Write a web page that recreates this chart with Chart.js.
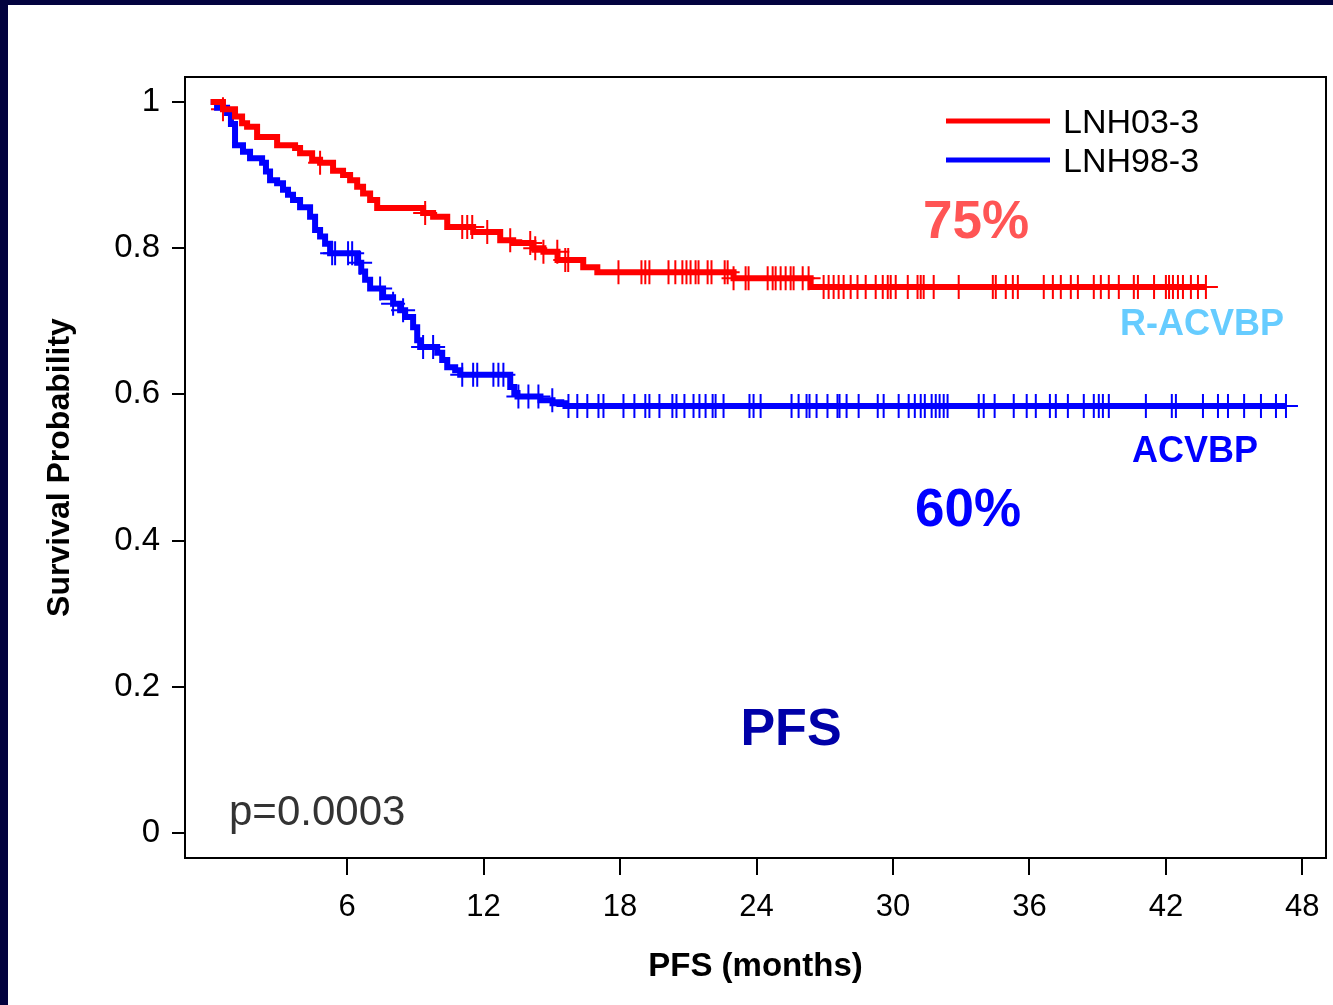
<!DOCTYPE html>
<html>
<head>
<meta charset="utf-8">
<title>PFS</title>
<script src="https://cdn.jsdelivr.net/npm/chart.js@4.4.1/dist/chart.umd.min.js"></script>
<style>
  html, body { margin: 0; padding: 0; width: 1333px; height: 1005px; overflow: hidden; background: #03033f; }
  #wrap { position: absolute; left: 8px; top: 5px; width: 1332px; height: 1000px; background: #fff; }
</style>
</head>
<body>
<div id="wrap"><canvas id="km" width="1332" height="1000"></canvas></div>
<script>
// Kaplan-Meier steps (months, survival)
const redTimes = [0, 0.54, 1.07, 1.38, 1.6, 2.04, 2.92, 3.71, 3.93, 4.46, 4.81, 5.38, 5.82, 6.13, 6.44, 6.7, 7.01, 7.32, 9.34, 9.78, 10.4, 11.54, 12.73, 13.3, 14.19, 14.63, 15.25, 16.38, 17.0, 22.99, 26.38];
const redSurv  = [1, 0.99, 0.98, 0.971, 0.966, 0.952, 0.941, 0.937, 0.93, 0.921, 0.917, 0.906, 0.9, 0.893, 0.884, 0.875, 0.866, 0.855, 0.848, 0.843, 0.829, 0.822, 0.811, 0.807, 0.8, 0.795, 0.784, 0.774, 0.767, 0.759, 0.747];
const redEnd = 43.76;
const redCensor = [0.54, 4.81, 9.43, 11.06, 11.28, 11.5, 12.16, 13.17, 14.05, 14.27, 14.63, 15.24, 15.59, 15.72, 17.93, 18.94, 19.11, 19.29, 20.13, 20.43, 20.74, 20.92, 21.1, 21.32, 21.45, 21.85, 22.02, 22.6, 22.73, 22.99, 23.52, 23.65, 24.49, 24.71, 24.84, 25.06, 25.28, 25.5, 25.63, 26.03, 26.29, 26.95, 27.17, 27.39, 27.61, 27.83, 28.14, 28.44, 28.8, 29.24, 29.55, 29.77, 29.9, 30.12, 30.65, 31.08, 31.22, 31.35, 31.79, 32.89, 34.39, 34.52, 34.96, 35.27, 35.49, 36.63, 37.03, 37.38, 37.82, 38.13, 38.83, 39.14, 39.49, 39.93, 40.59, 40.77, 41.48, 42.0, 42.14, 42.31, 42.53, 42.75, 43.1, 43.41, 43.76];

const blueTimes = [0, 0.28, 0.72, 0.89, 1.07, 1.42, 1.73, 2.26, 2.43, 2.61, 2.92, 3.18, 3.4, 3.62, 3.93, 4.37, 4.59, 4.81, 5.03, 5.25, 6.44, 6.62, 6.79, 7.01, 7.58, 8.02, 8.33, 8.55, 8.9, 9.08, 9.21, 9.96, 10.18, 10.4, 10.75, 10.97, 13.17, 13.35, 13.49, 14.5, 15.03, 15.6];
const blueSurv  = [1, 0.992, 0.985, 0.97, 0.941, 0.932, 0.923, 0.917, 0.905, 0.893, 0.889, 0.88, 0.873, 0.866, 0.856, 0.843, 0.825, 0.816, 0.806, 0.793, 0.78, 0.768, 0.757, 0.745, 0.733, 0.724, 0.715, 0.706, 0.692, 0.674, 0.665, 0.657, 0.647, 0.637, 0.633, 0.627, 0.61, 0.602, 0.597, 0.592, 0.588, 0.584];
const blueEnd = 47.28;
const blueCensor = [5.34, 5.47, 6.04, 6.22, 6.57, 7.45, 8.02, 8.46, 9.34, 9.78, 11.06, 11.54, 11.72, 12.43, 12.65, 12.87, 13.53, 13.97, 14.41, 15.02, 15.73, 16.12, 16.56, 17.05, 17.27, 18.15, 18.63, 19.11, 19.29, 19.73, 20.3, 20.48, 20.83, 21.23, 21.49, 21.76, 22.07, 22.2, 22.55, 23.69, 23.87, 24.18, 25.54, 25.85, 26.2, 26.33, 26.64, 27.12, 27.56, 27.65, 27.96, 28.49, 29.33, 29.59, 30.25, 30.69, 30.96, 31.22, 31.4, 31.7, 31.88, 32.05, 32.23, 32.4, 33.77, 33.99, 34.47, 35.31, 35.88, 36.28, 36.9, 37.16, 37.69, 38.39, 38.83, 39.05, 39.23, 39.49, 41.12, 42.26, 42.44, 43.63, 44.29, 44.73, 45.44, 46.18, 46.84, 47.28];

const xTicks = [6, 12, 18, 24, 30, 36, 42, 48];
const yTicks = [0, 0.2, 0.4, 0.6, 0.8, 1];

const RED = '#ff0000';
const BLUE = '#0000ff';
const FONT = '"Liberation Sans", Arial, sans-serif';

function stepPoints(times, surv, end) {
  const pts = times.map((t, i) => ({ x: t, y: surv[i] }));
  pts.push({ x: end, y: surv[surv.length - 1] });
  return pts;
}

function survAt(times, surv, t) {
  let s = surv[0];
  for (let i = 0; i < times.length; i++) if (times[i] <= t) s = surv[i];
  return s;
}

function censorPoints(cens, times, surv) {
  return cens.map(t => ({ x: t, y: survAt(times, surv, t) }));
}

// frame + in-plot labels and legend
const decor = {
  id: 'decor',
  afterDraw(chart) {
    const { ctx, chartArea: a } = chart;
    ctx.save();
    ctx.strokeStyle = '#000';
    ctx.lineWidth = 2;
    ctx.strokeRect(a.left, a.top, a.right - a.left, a.bottom - a.top);

    // legend
    ctx.lineWidth = 5;
    [[RED, 116, 'LNH03-3'], [BLUE, 155, 'LNH98-3']].forEach(([c, y, txt]) => {
      ctx.strokeStyle = c;
      ctx.beginPath(); ctx.moveTo(938, y); ctx.lineTo(1042, y); ctx.stroke();
      ctx.fillStyle = '#000';
      ctx.font = `34px ${FONT}`;
      ctx.textAlign = 'left';
      ctx.textBaseline = 'alphabetic';
      ctx.fillText(txt, 1055, y + 12);
    });

    const label = (txt, x, y, size, color, bold, align) => {
      ctx.font = `${bold ? 'bold ' : ''}${size}px ${FONT}`;
      ctx.fillStyle = color;
      ctx.textAlign = align || 'center';
      ctx.textBaseline = 'alphabetic';
      ctx.fillText(txt, x, y + size * 0.358);
    };
    label('75%', 968, 214, 53, '#ff5555', true);
    label('R-ACVBP', 1194, 317, 36, '#66ccff', true);
    label('ACVBP', 1187, 444, 36, BLUE, true);
    label('60%', 960, 502, 53, BLUE, true);
    label('PFS', 783, 721, 52, '#0000a8', true);
    label('p=0.0003', 221, 805, 42, '#333333', false, 'left');
    ctx.restore();
  }
};

new Chart(document.getElementById('km'), {
  type: 'line',
  data: {
    datasets: [
      { label: 'LNH03-3', data: stepPoints(redTimes, redSurv, redEnd), borderColor: RED, borderWidth: 6, stepped: true, pointRadius: 0, fill: false, borderJoinStyle: 'miter' },
      { label: 'LNH98-3', data: stepPoints(blueTimes, blueSurv, blueEnd), borderColor: BLUE, borderWidth: 6, stepped: true, pointRadius: 0, fill: false, borderJoinStyle: 'miter' },
      { label: 'cens1', data: censorPoints(redCensor, redTimes, redSurv), showLine: false, pointStyle: 'cross', pointRadius: 12, pointBorderWidth: 2, borderColor: RED, pointBorderColor: RED },
      { label: 'cens2', data: censorPoints(blueCensor, blueTimes, blueSurv), showLine: false, pointStyle: 'cross', pointRadius: 12, pointBorderWidth: 2, borderColor: BLUE, pointBorderColor: BLUE }
    ]
  },
  options: {
    responsive: false,
    animation: false,
    devicePixelRatio: 1,
    layout: { padding: { top: 72, right: 1, left: 0, bottom: 0 } },
    plugins: { legend: { display: false }, tooltip: { enabled: false } },
    scales: {
      x: {
        type: 'linear', min: -1.13, max: 49.04,
        afterBuildTicks: s => { s.ticks = xTicks.map(v => ({ value: v })); },
        afterFit: s => { s.height = 147; },
        ticks: { color: '#000', font: { family: FONT, size: 31 }, padding: 14, maxRotation: 0, callback: v => String(v) },
        grid: { drawOnChartArea: false, tickLength: 17, color: '#000', lineWidth: 2 },
        border: { display: false },
        title: { display: true, text: 'PFS (months)', color: '#000', font: { family: FONT, size: 33, weight: 'bold' }, padding: { top: 0, bottom: 18 } }
      },
      y: {
        type: 'linear', min: -0.0342, max: 1.0342,
        afterBuildTicks: s => { s.ticks = yTicks.map(v => ({ value: v })); },
        afterFit: s => { s.width = 177; },
        ticks: { color: '#000', font: { family: FONT, size: 33 }, padding: 12, callback: v => String(v) },
        grid: { drawOnChartArea: false, tickLength: 13, color: '#000', lineWidth: 2 },
        border: { display: false },
        title: { display: true, text: 'Survival Probability', color: '#000', font: { family: FONT, size: 32, weight: 'bold' }, padding: { top: 33, bottom: 0 } }
      }
    }
  },
  plugins: [decor]
});
</script>
</body>
</html>
